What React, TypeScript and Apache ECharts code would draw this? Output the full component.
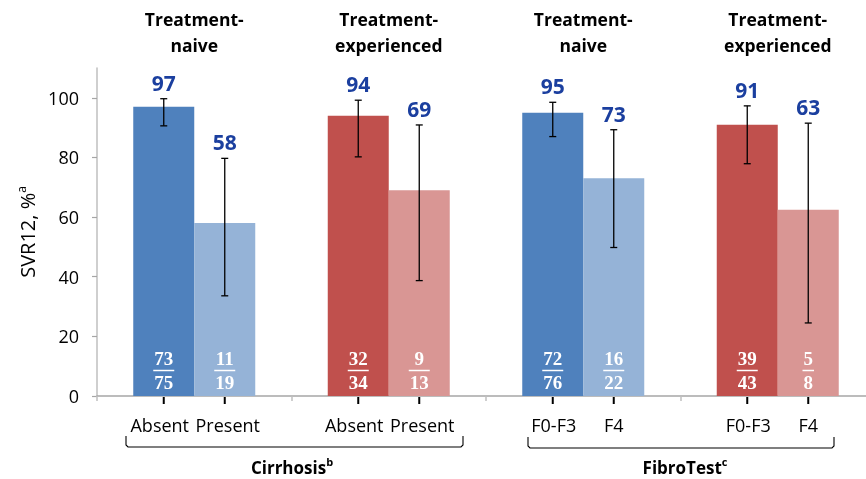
import React, { useEffect, useRef } from "react";
import * as echarts from "echarts";

// ---- data ----
const groups = ["Cirrhosis naive", "Cirrhosis experienced", "FibroTest naive", "FibroTest experienced"];
const headers = ["Treatment-\nnaive", "Treatment-\nexperienced", "Treatment-\nnaive", "Treatment-\nexperienced"];
const subLabelsA = ["Absent", "Absent", "F0-F3", "F0-F3"];
const subLabelsB = ["Present", "Present", "F4", "F4"];
const svrA = [97, 94, 95, 91];
const svrB = [58, 69, 73, 62.5];
const ciLowA = [90.6, 80.2, 87.0, 77.9];
const ciHighA = [99.7, 99.2, 98.5, 97.3];
const ciLowB = [33.6, 38.7, 49.8, 24.5];
const ciHighB = [79.7, 90.9, 89.3, 91.5];
const numA = [73, 32, 72, 39];
const denA = [75, 34, 76, 43];
const numB = [11, 9, 16, 5];
const denB = [19, 13, 22, 8];
const yTicks = [0, 20, 40, 60, 80, 100];
const colorsA = ["#4F81BD", "#C0504D", "#4F81BD", "#C0504D"];
const colorsB = ["#95B3D7", "#D99694", "#95B3D7", "#D99694"];

// layout constants
const BAR_W = 61;
const LABEL_NUDGE_A = [-4, -4, 1, 1];
const LABEL_NUDGE_B = [3, 3, 0, 0];
const SANS = "'Open Sans', 'Noto Sans', sans-serif";
const SERIF = "'Liberation Serif', 'DejaVu Serif', serif";
const VALUE_COLOR = "#1B3F9F";

export default function App() {
  const ref = useRef<HTMLDivElement>(null);
  useEffect(() => {
    if (!ref.current) return;
    const chart = echarts.init(ref.current, undefined, { renderer: "svg" });

    const overlayData: any[] = [];
    for (let g = 0; g < groups.length; g++) {
      overlayData.push([g, 0, svrA[g], ciLowA[g], ciHighA[g], numA[g], denA[g]]);
      overlayData.push([g, 1, svrB[g], ciLowB[g], ciHighB[g], numB[g], denB[g]]);
    }

    const renderItem = (params: any, api: any) => {
      const g = api.value(0);
      const s = api.value(1);
      const v = api.value(2);
      const lo = api.value(3);
      const hi = api.value(4);
      const num = api.value(5);
      const den = api.value(6);
      const base = api.coord([g, 0]);
      const xc = base[0] + (s === 0 ? -BAR_W / 2 : BAR_W / 2);
      const y0 = base[1];
      const yHi = api.coord([g, hi])[1];
      const yLo = api.coord([g, lo])[1];
      const digits = Math.max(String(num).length, String(den).length);
      const fw = digits * 9.5 + 2;
      const children: any[] = [
        { type: "line", shape: { x1: xc, y1: yHi, x2: xc, y2: yLo }, style: { stroke: "#000", lineWidth: 1.3 } },
        { type: "line", shape: { x1: xc - 3.5, y1: yHi, x2: xc + 3.5, y2: yHi }, style: { stroke: "#000", lineWidth: 1.3 } },
        { type: "line", shape: { x1: xc - 3.5, y1: yLo, x2: xc + 3.5, y2: yLo }, style: { stroke: "#000", lineWidth: 1.3 } },
        {
          type: "text",
          x: xc,
          y: yHi - 16,
          style: {
            text: String(Math.round(v)),
            fill: VALUE_COLOR,
            fontSize: 21,
            fontWeight: "bold",
            fontFamily: SANS,
            align: "center",
            verticalAlign: "middle",
          },
        },
        {
          type: "text",
          x: xc,
          y: y0 - 37.5,
          style: { text: String(num), fill: "#fff", fontSize: 19, fontWeight: "bold", fontFamily: SERIF, align: "center", verticalAlign: "middle" },
        },
        { type: "line", shape: { x1: xc - fw / 2, y1: y0 - 25.5, x2: xc + fw / 2, y2: y0 - 25.5 }, style: { stroke: "#fff", lineWidth: 1.5 } },
        {
          type: "text",
          x: xc,
          y: y0 - 13.5,
          style: { text: String(den), fill: "#fff", fontSize: 19, fontWeight: "bold", fontFamily: SERIF, align: "center", verticalAlign: "middle" },
        },
        { type: "line", shape: { x1: xc, y1: y0 + 1, x2: xc, y2: y0 + 8 }, style: { stroke: "#000", lineWidth: 2 } },
        {
          type: "text",
          x: xc + (s === 0 ? LABEL_NUDGE_A[g] : LABEL_NUDGE_B[g]),
          y: y0 + 29,
          style: {
            text: s === 0 ? subLabelsA[g] : subLabelsB[g],
            fill: "#000",
            fontSize: 18,
            fontFamily: SANS,
            align: "center",
            verticalAlign: "middle",
          },
        },
      ];
      if (s === 0) {
        children.push({
          type: "text",
          x: base[0],
          y: 32,
          style: {
            text: headers[g],
            fill: "#000",
            fontSize: 17.5,
            fontWeight: "bold",
            fontFamily: SANS,
            lineHeight: 26,
            align: "center",
            verticalAlign: "middle",
          },
        });
      }
      return { type: "group", children };
    };

    const bracketStyle = { stroke: "#000", lineWidth: 1.1, fill: "none" };
    const supRich = {
      b: { fontSize: 17, fontWeight: "bold", fontFamily: SANS, fill: "#000", lineHeight: 22 },
      s: { fontSize: 11, fontWeight: "bold", fontFamily: SANS, fill: "#000", lineHeight: 22, verticalAlign: "top" },
    };

    chart.setOption({
      animation: false,
      grid: { left: 97, right: 0, top: 68, bottom: 83 },
      xAxis: {
        type: "category",
        data: groups,
        axisLine: { lineStyle: { color: "#a6a6a6", width: 1.5 } },
        axisTick: { show: true, length: 5, lineStyle: { color: "#bfbfbf", width: 1.5 } },
        axisLabel: { show: false },
      },
      yAxis: {
        type: "value",
        min: 0,
        max: 110,
        name: "{n|SVR12, %}{s|a}",
        nameLocation: "middle",
        nameRotate: 90,
        nameGap: 56,
        nameTextStyle: {
          rich: {
            n: { fontSize: 20, fontFamily: SANS, color: "#000", lineHeight: 24 },
            s: { fontSize: 12, fontFamily: SANS, color: "#000", lineHeight: 24, verticalAlign: "top" },
          },
        },
        axisLine: { show: true, lineStyle: { color: "#bfbfbf", width: 1.5 } },
        axisTick: { show: true, length: 5, customValues: yTicks, lineStyle: { color: "#a6a6a6", width: 1.2 } },
        axisLabel: { customValues: yTicks, fontSize: 18, fontFamily: SANS, color: "#000", margin: 18 },
        splitLine: { show: false },
      },
      series: [
        {
          type: "bar",
          data: svrA.map((v, i) => ({ value: v, itemStyle: { color: colorsA[i] } })),
          barWidth: BAR_W,
          barGap: "0%",
        },
        {
          type: "bar",
          data: svrB.map((v, i) => ({ value: v, itemStyle: { color: colorsB[i] } })),
          barWidth: BAR_W,
          barGap: "0%",
        },
        {
          type: "custom",
          renderItem,
          data: overlayData,
          encode: { x: 0, y: 2 },
          clip: false,
          z: 5,
        },
      ],
      graphic: [
        {
          type: "polyline",
          shape: { points: [[126, 436], [126, 445], [128, 447], [461, 447], [463, 445], [463, 436]] },
          style: bracketStyle,
        },
        {
          type: "polyline",
          shape: { points: [[528, 437], [528, 446], [530, 448], [832, 448], [834, 446], [834, 437]] },
          style: bracketStyle,
        },
        {
          type: "text",
          x: 292,
          y: 467,
          style: { text: "{b|Cirrhosis}{s|b}", rich: supRich, align: "center", verticalAlign: "middle" },
        },
        {
          type: "text",
          x: 685,
          y: 467,
          style: { text: "{b|FibroTest}{s|c}", rich: supRich, align: "center", verticalAlign: "middle" },
        },
      ],
    });
    return () => chart.dispose();
  }, []);
  return (
    <div style={{ position: "fixed", left: 0, top: 0, width: 866, height: 479, overflow: "hidden" }}>
      <div ref={ref} style={{ position: "absolute", left: 0, top: 0, width: 875, height: 479 }} />
    </div>
  );
}
